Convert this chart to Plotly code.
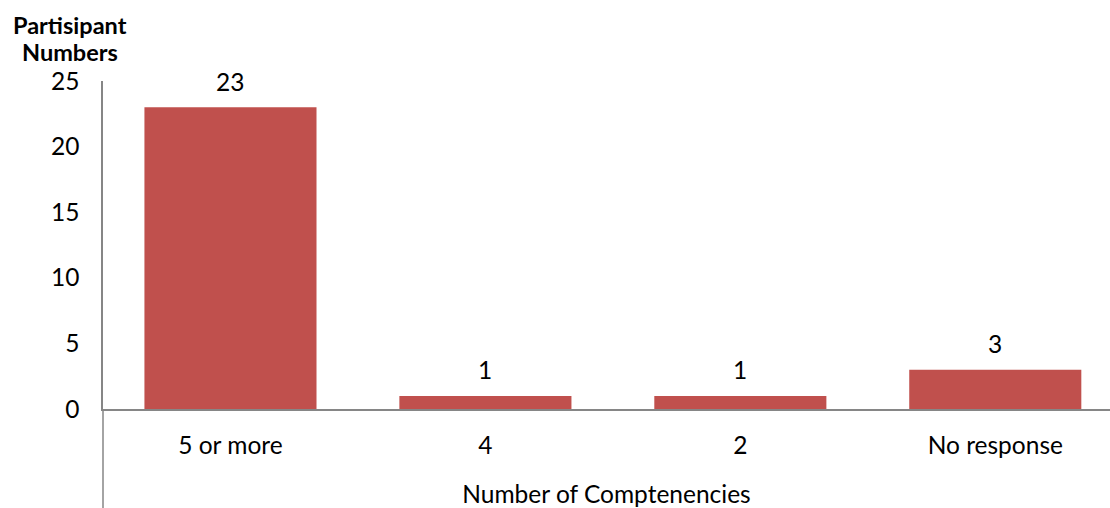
import plotly.graph_objects as go

categories = ["5 or more", "4", "2", "No response"]
participants = [23, 1, 1, 3]
y_ticks = [0, 5, 10, 15, 20, 25]
y_title_lines = ["Partisipant", "Numbers"]

BAR_COLOR = "#C0504D"
AXIS_COLOR = "#868686"
FONT = "Lato"
FS = 24.5

fig = go.Figure(
    go.Bar(
        x=categories,
        y=participants,
        marker=dict(color=BAR_COLOR, line=dict(width=0)),
        width=0.675,
        hoverinfo="x+y",
    )
)

# value labels sitting above each bar (placed by category index)
for i, val in enumerate(participants):
    fig.add_annotation(
        x=i, y=val, text=str(val), showarrow=False,
        yanchor="middle", yshift=26,
        font=dict(family=FONT, size=FS, color="black"),
    )

# y-axis title, two bold lines at top-left
for line, shift in zip(y_title_lines, [56, 29]):
    fig.add_annotation(
        xref="paper", yref="paper", x=-0.0328, y=1.0,
        xanchor="center", yanchor="middle", yshift=shift,
        text=f"<b>{line}</b>", showarrow=False,
        font=dict(family=FONT, size=23.5, color="black"),
    )

# vertical axis line continues down past the category labels
fig.add_shape(
    type="line", xref="paper", yref="paper",
    x0=0, x1=0, y0=0, y1=-0.31,
    line=dict(color=AXIS_COLOR, width=1.5),
)

fig.update_layout(
    width=1110, height=508,
    margin=dict(l=103, r=0, t=81, b=99),
    paper_bgcolor="white", plot_bgcolor="white",
    showlegend=False,
    font=dict(family=FONT, size=FS, color="black"),
    xaxis=dict(
        type="category",
        range=[-0.5, 3.45],
        showline=True, linecolor=AXIS_COLOR, linewidth=1.5,
        showgrid=False, ticks="", ticklabelstandoff=14,
        title=dict(text="Number of Comptenencies", standoff=28,
                   font=dict(family=FONT, size=FS)),
        automargin=False,
    ),
    yaxis=dict(
        range=[0, 25],
        tickvals=y_ticks,
        showline=True, linecolor=AXIS_COLOR, linewidth=1.5,
        showgrid=False, zeroline=False, ticks="", ticklabelstandoff=17,
        automargin=False,
    ),
)

fig.write_html("out.html")
